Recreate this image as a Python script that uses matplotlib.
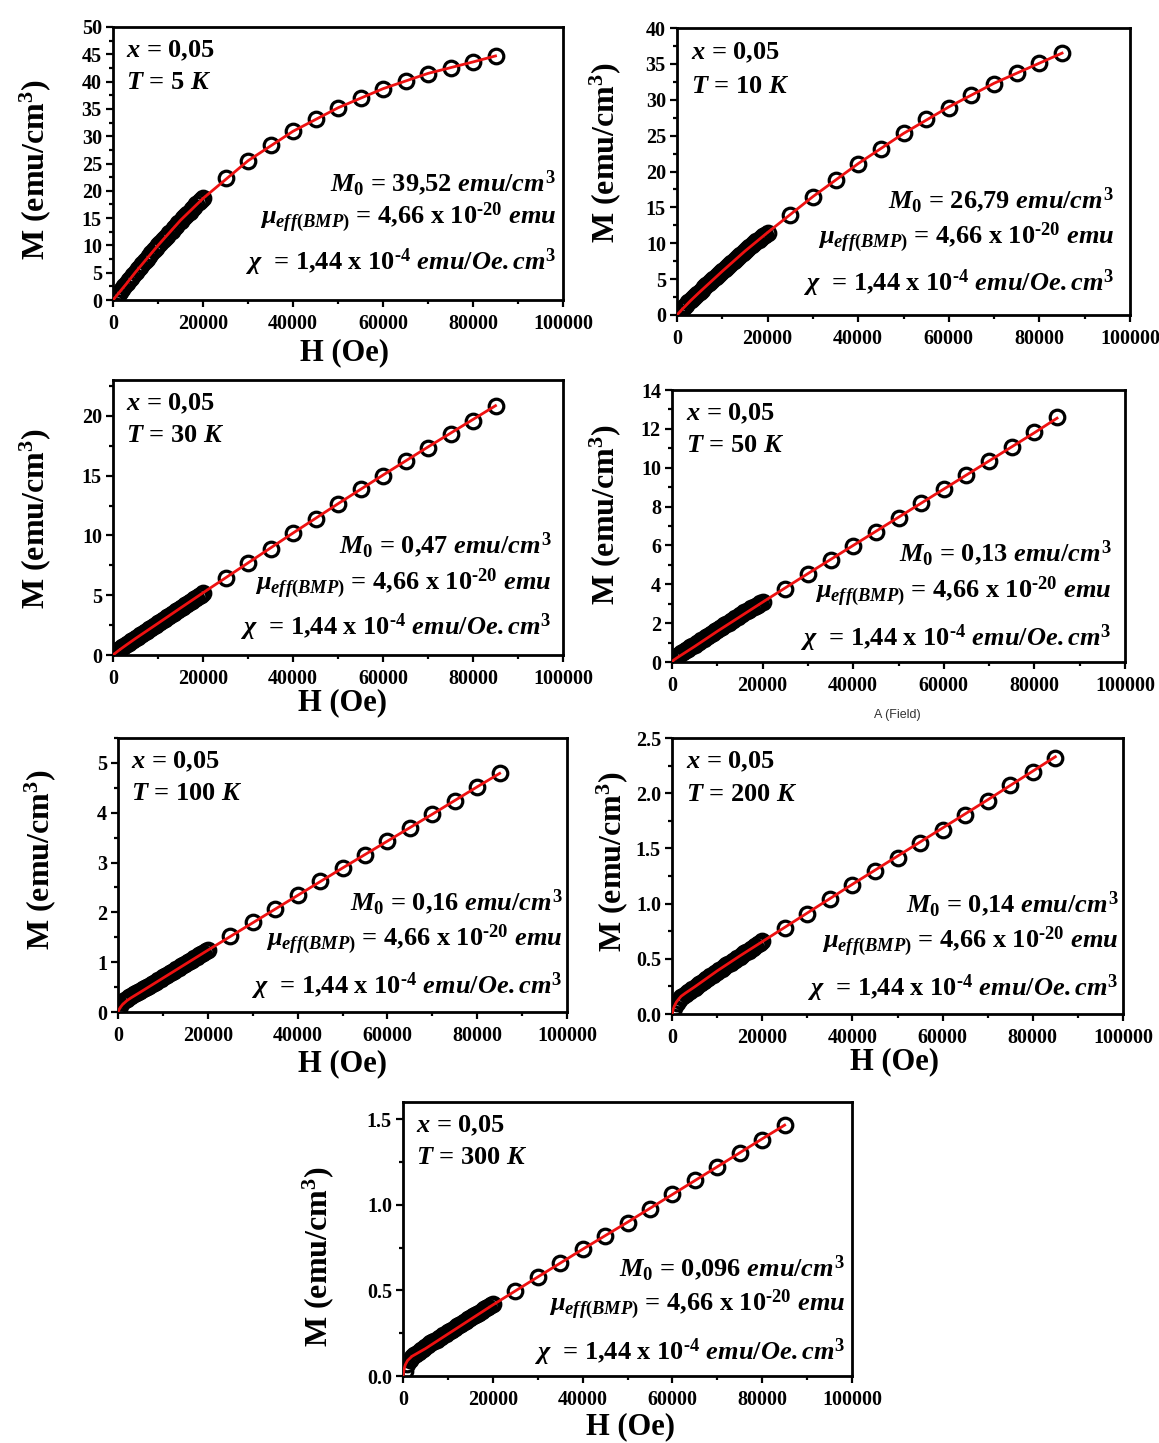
import matplotlib
matplotlib.use("Agg")
import matplotlib.pyplot as plt
from matplotlib.ticker import MultipleLocator, FormatStrFormatter

plt.rcParams["font.family"] = ["Liberation Serif", "DejaVu Serif"]
plt.rcParams["font.weight"] = "bold"
plt.rcParams["mathtext.fontset"] = "custom"
plt.rcParams["mathtext.rm"] = "Liberation Serif:bold"
plt.rcParams["mathtext.it"] = "Liberation Serif:bold:italic"
plt.rcParams["mathtext.bf"] = "Liberation Serif:bold"

# ---- measured data (H in Oe, M in emu/cm^3) ----
field_low = [500, 1000, 1500, 2000, 2500, 3000, 3500, 4000, 4500, 5000,
             5500, 6000, 6500, 7000, 7500, 8000, 8500, 9000, 9500, 10000,
             10500, 11000, 11500, 12000, 12500, 13000, 13500, 14000, 14500, 15000,
             15500, 16000, 16500, 17000, 17500, 18000, 18500, 19000, 19500, 20000]
field_high = [25000, 30000, 35000, 40000, 45000, 50000, 55000, 60000, 65000,
              70000, 75000, 80000, 85000]
field = field_low + field_high

m_5K = [0.7, 1.0, 1.5, 2.0, 2.5, 3.1, 3.6, 4.1, 4.6, 5.1,
        5.6, 6.1, 6.6, 7.1, 7.6, 8.1, 8.6, 9.1, 9.5, 10.0,
        10.4, 10.9, 11.4, 11.8, 12.3, 12.7, 13.2, 13.6, 14.1, 14.5,
        15.0, 15.4, 15.8, 16.2, 16.7, 17.1, 17.5, 17.9, 18.3, 18.7,
        22.3, 25.5, 28.4, 30.9, 33.1, 35.2, 37.0, 38.6, 40.1, 41.4, 42.5, 43.6, 44.7]
m_10K = [0.4, 0.8, 1.1, 1.45, 1.75, 2.05, 2.35, 2.65, 2.95, 3.25,
         3.55, 3.85, 4.15, 4.45, 4.75, 5.05, 5.3, 5.6, 5.9, 6.2,
         6.45, 6.75, 7.0, 7.3, 7.55, 7.85, 8.1, 8.4, 8.65, 8.95,
         9.2, 9.5, 9.75, 10.0, 10.25, 10.5, 10.75, 11.0, 11.2, 11.45,
         14.0, 16.5, 18.8, 21.1, 23.2, 25.3, 27.3, 28.9, 30.6, 32.2, 33.7, 35.1, 36.5]
m_30K = [0.25, 0.4, 0.52, 0.65, 0.77, 0.9, 1.02, 1.15, 1.27, 1.4,
         1.52, 1.65, 1.77, 1.9, 2.02, 2.15, 2.27, 2.4, 2.52, 2.65,
         2.77, 2.9, 3.02, 3.15, 3.27, 3.4, 3.52, 3.65, 3.77, 3.9,
         4.02, 4.15, 4.27, 4.4, 4.52, 4.65, 4.77, 4.9, 5.05, 5.2,
         6.43, 7.7, 8.9, 10.2, 11.4, 12.6, 13.85, 15.0, 16.2, 17.3, 18.5, 19.6, 20.8]
m_50K = [0.2, 0.3, 0.38, 0.45, 0.53, 0.6, 0.68, 0.75, 0.83, 0.9,
         0.98, 1.05, 1.13, 1.2, 1.28, 1.35, 1.43, 1.5, 1.58, 1.65,
         1.73, 1.8, 1.88, 1.95, 2.03, 2.1, 2.18, 2.25, 2.33, 2.4,
         2.47, 2.55, 2.62, 2.7, 2.77, 2.85, 2.9, 2.95, 3.02, 3.08,
         3.77, 4.55, 5.23, 5.97, 6.67, 7.43, 8.18, 8.91, 9.62, 10.35, 11.08, 11.83, 12.6]
m_100K = [0.12, 0.2, 0.24, 0.27, 0.3, 0.33, 0.36, 0.38, 0.41, 0.43,
          0.46, 0.48, 0.51, 0.53, 0.56, 0.59, 0.61, 0.64, 0.67, 0.7,
          0.72, 0.75, 0.78, 0.81, 0.83, 0.86, 0.89, 0.92, 0.94, 0.97,
          1.0, 1.03, 1.05, 1.08, 1.11, 1.14, 1.16, 1.19, 1.22, 1.25,
          1.52, 1.80, 2.07, 2.35, 2.62, 2.90, 3.15, 3.43, 3.69, 3.97, 4.23, 4.51, 4.79]
m_200K = [0.05, 0.1, 0.13, 0.15, 0.165, 0.18, 0.195, 0.21, 0.225, 0.24,
          0.255, 0.27, 0.285, 0.3, 0.315, 0.33, 0.342, 0.355, 0.368, 0.38,
          0.395, 0.41, 0.425, 0.44, 0.452, 0.465, 0.478, 0.49, 0.505, 0.52,
          0.535, 0.55, 0.562, 0.575, 0.588, 0.6, 0.615, 0.63, 0.643, 0.657,
          0.78, 0.91, 1.04, 1.17, 1.295, 1.415, 1.545, 1.67, 1.80, 1.93, 2.07, 2.19, 2.32]
m_300K = [0.03, 0.07, 0.095, 0.11, 0.12, 0.13, 0.14, 0.15, 0.16, 0.17,
          0.18, 0.19, 0.198, 0.205, 0.213, 0.22, 0.23, 0.24, 0.248, 0.255,
          0.263, 0.27, 0.28, 0.29, 0.298, 0.305, 0.313, 0.32, 0.33, 0.34,
          0.348, 0.355, 0.363, 0.37, 0.38, 0.39, 0.398, 0.405, 0.413, 0.42,
          0.499, 0.577, 0.658, 0.739, 0.817, 0.896, 0.977, 1.06, 1.142, 1.223, 1.30, 1.38, 1.465]

# ---- BMP fit curves ----
fit_field = [0, 250, 500, 1000, 2000, 3000, 5000, 10000, 15000, 20000,
             30000, 40000, 50000, 60000, 70000, 80000, 85000]
fit_5K = [0, 0.25, 0.5, 1.0, 2.0, 3.0, 5.1, 10.0, 14.6, 18.6,
          25.5, 30.9, 35.2, 38.7, 41.5, 43.6, 44.7]
fit_10K = [0, 0.18, 0.35, 0.7, 1.35, 2.0, 3.2, 6.1, 8.9, 11.5,
           16.5, 21.1, 25.3, 29.0, 32.3, 35.1, 36.5]
fit_30K = [0, 0.08, 0.15, 0.3, 0.58, 0.85, 1.38, 2.65, 3.93, 5.2,
           7.7, 10.2, 12.65, 15.05, 17.4, 19.7, 20.85]
fit_50K = [0, 0.07, 0.12, 0.2, 0.35, 0.5, 0.8, 1.58, 2.33, 3.08,
           4.55, 6.0, 7.45, 8.9, 10.35, 11.8, 12.55]
fit_100K = [0, 0.05, 0.09, 0.15, 0.23, 0.29, 0.40, 0.68, 0.96, 1.24,
            1.79, 2.34, 2.89, 3.43, 3.97, 4.52, 4.79]
fit_200K = [0, 0.04, 0.07, 0.11, 0.16, 0.19, 0.245, 0.39, 0.525, 0.655,
            0.915, 1.175, 1.43, 1.685, 1.94, 2.2, 2.33]
fit_300K = [0, 0.04, 0.065, 0.09, 0.115, 0.13, 0.16, 0.245, 0.33, 0.415,
            0.578, 0.74, 0.898, 1.06, 1.222, 1.385, 1.465]

temperatures = ["5", "10", "30", "50", "100", "200", "300"]
m0_values = ["39,52", "26,79", "0,47", "0,13", "0,16", "0,14", "0,096"]
moments = [m_5K, m_10K, m_30K, m_50K, m_100K, m_200K, m_300K]
fits = [fit_5K, fit_10K, fit_30K, fit_50K, fit_100K, fit_200K, fit_300K]

# ---- layout in pixels ----
W, H = 1159, 1443
boxes = [(113, 563, 27, 300), (677, 1130, 28, 315),
         (113, 563, 380, 655), (672, 1125, 390, 662),
         (118, 567, 738, 1012), (672, 1123, 738, 1014),
         (403, 852, 1102, 1376)]
ylims = [50, 40, 23, 14, 5.5, 2.5, 1.6]
ymajor = [5, 5, 5, 2, 1, 0.5, 0.5]
yfmt = ["%d", "%d", "%d", "%d", "%d", "%.1f", "%.1f"]
ylabel_xy = [(35, 170), (605, 153), (35, 519), (605, 515),
             (40, 860), (612, 862), (318, 1257)]
xlabel_xy = [(345, 353), None, (343, 703), None, (343, 1064), (895, 1062), (630, 1427)]
param_x = [0.985, 0.965, 0.975, 0.97, 0.99, 0.99, 0.985]
param_y = [(0.43, 0.30, 0.14), (0.40, 0.268, 0.11), (0.40, 0.26, 0.10),
           (0.40, 0.257, 0.088), (0.40, 0.263, 0.095), (0.40, 0.26, 0.094),
           (0.394, 0.259, 0.088)]

HY = "\u2010"  # short hyphen for the exponents

fig = plt.figure(figsize=(W / 100, H / 100), dpi=100)


def fpos(x, y):
    return x / W, 1 - y / H


for i in range(7):
    l, r, t, b = boxes[i]
    ax = fig.add_axes([l / W, 1 - b / H, (r - l) / W, (b - t) / H])
    ax.plot(field, moments[i], "o", mfc="none", mec="black", ms=10.5, mew=2.3,
            zorder=2)
    ax.plot(fit_field, fits[i], "-", color="#ee1111", lw=2.0, zorder=3)

    ax.set_xlim(0, 100000)
    ax.set_ylim(0, ylims[i])
    ax.xaxis.set_major_locator(MultipleLocator(20000))
    ax.xaxis.set_minor_locator(MultipleLocator(10000))
    ax.yaxis.set_major_locator(MultipleLocator(ymajor[i]))
    ax.yaxis.set_minor_locator(MultipleLocator(ymajor[i] / 2))
    ax.yaxis.set_major_formatter(FormatStrFormatter(yfmt[i]))
    ax.tick_params(which="both", direction="out", top=False, right=False,
                   width=1.6, labelsize=14.5)
    ax.tick_params(axis="x", pad=5)
    ax.tick_params(axis="y", pad=3)
    ax.tick_params(which="major", length=5)
    ax.tick_params(which="minor", length=3)
    for lab in ax.get_xticklabels() + ax.get_yticklabels():
        lab.set_fontweight("bold")
    for s in ax.spines.values():
        s.set_linewidth(2.0)

    fig.text(*fpos(*ylabel_xy[i]), r"M (emu/cm$^{3}$)", fontsize=23,
             rotation=90, ha="center", va="center")
    if xlabel_xy[i] is not None:
        fig.text(*fpos(*xlabel_xy[i]), "H (Oe)", fontsize=22,
                 ha="center", va="center")

    ax.text(0.03, 0.912, r"$\mathit{x}$ = 0,05", transform=ax.transAxes,
            fontsize=19, va="center", ha="left")
    ax.text(0.03, 0.797, r"$\mathit{T}$ = " + temperatures[i] + r" $\mathit{K}$",
            transform=ax.transAxes, fontsize=19, va="center", ha="left")

    px = param_x[i]
    y1, y2, y3 = param_y[i]
    ax.text(px, y1, r"$\mathit{M}_{\mathit{0}}$ = " + m0_values[i]
            + r" $\mathit{emu/cm}^{\mathit{3}}$",
            transform=ax.transAxes, fontsize=19, va="center", ha="right")
    ax.text(px, y2, r"$\mathit{μ}_{\mathit{eff(BMP)}}$ = 4,66 x $\mathbf{10}^{\mathbf{"
            + HY + r"20}}$ $\mathit{emu}$",
            transform=ax.transAxes, fontsize=19, va="center", ha="right")
    ax.text(px, y3, r"$\mathit{χ}$  = 1,44 x $\mathbf{10}^{\mathbf{" + HY
            + r"4}}$ $\mathit{emu/Oe.cm}^{\mathit{3}}$",
            transform=ax.transAxes, fontsize=19, va="center", ha="right")

# field-axis caption under the 50 K panel
fig.text(*fpos(897, 715), "A (Field)", fontsize=9, fontweight="normal",
         family=["Liberation Sans", "DejaVu Sans"], color="#333333",
         ha="center", va="center")

fig.savefig("out.png", dpi=100, facecolor="white")
